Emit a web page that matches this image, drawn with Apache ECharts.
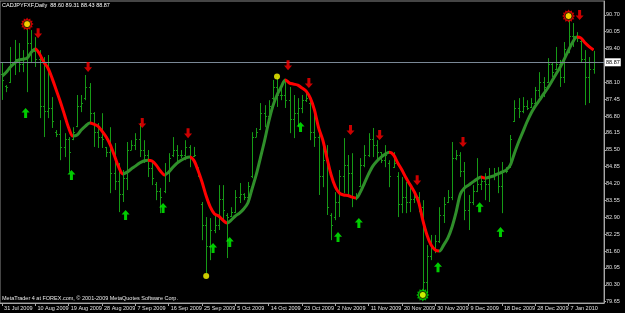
<!DOCTYPE html>
<html><head><meta charset="utf-8">
<script src="https://cdn.jsdelivr.net/npm/echarts@6/dist/echarts.min.js"></script>
<style>html,body{margin:0;padding:0;background:#000}#c{width:625px;height:313px}</style>
</head><body><div id="c"></div>
<script>
const titleText = 'CADJPYFXF,Daily  88.60 89.31 88.43 88.87';
const footerText = 'MetaTrader 4 at FOREX.com, \u00a9 2001-2009 MetaQuotes Software Corp.';
const xTickLabels = ['31 Jul 2009','10 Aug 2009','19 Aug 2009','28 Aug 2009','7 Sep 2009','16 Sep 2009','25 Sep 2009','5 Oct 2009','14 Oct 2009','23 Oct 2009','2 Nov 2009','11 Nov 2009','20 Nov 2009','30 Nov 2009','9 Dec 2009','18 Dec 2009','28 Dec 2009','7 Jan 2010'];
const yTickValues = [79.65,80.30,80.95,81.60,82.25,82.90,83.55,84.20,84.85,85.50,86.15,86.80,87.45,88.10,88.75,89.40,90.05,90.70];
const bidPrice = 88.87;

const open = [88.4,87.95,88.1,88.9,89.0,88.8,89.0,89.6,89.3,89.0,
87.2,87.0,87.1,86.2,86.1,85.6,85.9,85.9,86.4,87.2,
87.5,87.9,86.9,86.2,86.0,85.6,85.4,84.6,84.3,83.8,
84.4,85.5,85.7,85.9,85.5,85.3,84.8,84.2,83.9,83.9,
84.6,85.3,85.5,85.3,85.3,85.6,85.25,84.8,83.4,82.6,
81.8,82.4,82.6,83.6,83.0,82.95,83.1,83.7,83.8,83.7,
84.5,86.0,86.3,86.9,86.8,87.5,87.9,87.6,87.6,87.4,
86.7,86.9,87.1,87.4,87.3,86.2,86.0,84.5,85.1,83.0,
82.9,83.5,84.5,84.9,84.6,83.7,84.1,84.9,85.3,85.9,
85.7,85.4,85.1,85.0,84.85,84.5,83.4,83.7,83.5,83.6,
83.7,83.3,80.4,81.4,81.7,82.0,83.0,83.5,83.7,85.2,
85.3,84.7,83.2,83.5,83.9,84.2,84.3,84.2,84.5,84.6,
84.1,84.7,84.85,86.6,87.1,87.0,87.2,87.15,87.3,87.8,
88.1,88.1,88.8,88.6,88.8,88.3,89.4,89.9,89.9,89.7,
89.0,88.3,88.60];
const high = [88.88,87.99,89.46,89.73,89.61,89.34,90.27,90.11,89.84,89.34,
89.07,89.15,87.53,86.26,86.64,86.14,85.99,86.37,87.61,87.61,
88.38,88.07,86.95,86.53,86.91,85.61,86.37,85.76,84.99,84.72,
85.80,85.87,86.14,86.53,85.87,85.49,84.99,84.26,84.03,84.99,
85.37,85.99,85.68,85.49,85.87,85.68,85.61,84.83,83.49,82.91,
82.87,83.06,84.14,84.14,83.06,83.29,83.95,84.22,83.83,84.26,
86.18,86.34,87.30,87.22,87.41,88.19,88.28,87.88,88.19,87.92,
87.61,87.49,87.61,87.68,87.41,86.91,86.37,85.76,85.68,83.06,
83.87,84.72,85.95,85.30,85.37,83.83,85.18,85.68,86.14,86.34,
85.87,85.41,85.68,85.10,85.41,84.64,84.45,84.26,84.22,83.95,
83.87,83.56,81.83,82.22,82.22,83.29,83.68,83.95,85.80,85.49,
85.41,85.03,83.76,84.14,85.18,84.45,84.60,84.80,84.80,84.83,
85.03,84.83,86.07,87.41,87.49,87.53,87.41,87.49,87.92,88.49,
88.30,89.03,88.84,89.46,88.96,89.65,90.57,90.38,90.03,89.73,
89.34,89.07,89.31];
const low = [87.42,87.72,88.07,88.38,88.49,88.49,87.72,88.84,88.69,86.72,
85.99,86.72,86.34,85.99,85.10,85.22,84.64,85.87,86.37,86.95,
87.41,86.53,85.61,85.57,85.57,85.22,83.83,83.95,83.10,83.49,
83.95,85.49,85.49,85.22,84.99,84.45,84.14,83.56,83.06,83.83,
84.26,85.22,84.99,85.18,85.10,84.83,85.22,84.45,82.02,80.75,
81.25,82.29,82.41,82.79,81.33,82.91,83.06,83.45,83.56,83.45,
84.41,85.99,86.26,86.37,86.64,87.41,87.15,87.41,87.11,86.14,
85.95,86.37,86.91,87.34,85.87,85.61,83.76,84.06,82.99,82.02,
82.79,82.91,83.83,83.68,83.29,83.56,84.06,84.83,85.22,85.22,
85.10,84.99,84.83,84.06,84.80,82.91,83.06,83.06,83.10,83.45,
83.10,79.98,79.98,81.25,81.52,81.91,82.68,83.45,83.56,85.10,
84.45,82.79,82.41,83.37,83.87,83.95,83.56,83.49,84.33,83.83,
83.06,84.60,84.80,86.57,86.72,86.91,87.03,87.11,87.15,87.53,
87.53,88.07,88.30,88.57,87.92,88.07,89.22,89.46,89.65,88.88,
87.22,87.30,88.43];
const close = [88.2,87.9,88.9,89.0,88.8,89.0,89.6,89.3,89.0,87.2,
87.0,87.1,86.6,86.1,85.6,85.9,85.4,86.2,87.2,87.3,
87.9,86.9,86.2,86.0,85.9,85.4,84.6,84.3,83.8,84.4,
85.5,85.7,85.9,85.5,85.3,84.8,84.4,83.9,83.7,84.6,
85.2,85.5,85.3,85.3,85.6,85.2,85.3,84.6,82.6,81.8,
82.4,82.6,83.6,83.2,82.9,83.1,83.7,83.8,83.7,84.1,
86.0,86.2,86.9,86.8,87.2,87.9,87.6,87.6,87.4,86.7,
86.9,87.1,87.4,87.5,86.2,86.0,84.5,85.1,83.3,82.6,
83.5,84.5,84.9,84.6,83.7,83.7,84.9,85.3,85.9,85.7,
85.4,85.1,85.3,84.5,85.0,83.4,83.7,83.5,83.6,83.7,
83.3,80.4,81.4,81.7,82.0,83.0,83.4,83.7,85.2,85.3,
84.7,83.2,83.5,83.9,84.2,84.3,84.2,84.5,84.6,84.1,
84.7,84.7,85.9,87.1,87.0,87.2,87.1,87.3,87.8,88.1,
87.9,88.8,88.5,88.8,88.3,89.4,89.9,89.9,89.8,89.0,
88.3,88.6,88.87];
const trend = [88.34,88.49,88.69,88.84,88.96,88.99,89.03,89.26,89.38,89.19,
88.88,88.65,88.26,87.80,87.34,86.84,86.34,86.03,86.07,86.26,
86.41,86.53,86.49,86.41,86.22,85.99,85.68,85.26,84.83,84.57,
84.64,84.76,84.87,84.99,85.07,85.10,85.07,84.91,84.68,84.53,
84.64,84.83,84.99,85.10,85.18,85.22,85.10,84.72,84.26,83.72,
83.29,83.03,82.95,82.79,82.68,82.79,82.95,83.06,83.22,83.45,
83.99,84.53,85.18,85.84,86.57,87.18,87.61,87.92,88.19,88.07,
88.03,87.99,87.88,87.76,87.49,87.03,86.34,85.87,85.18,84.53,
84.07,83.83,83.76,83.74,83.68,83.64,83.87,84.22,84.57,84.87,
85.07,85.22,85.34,85.41,85.30,84.99,84.72,84.41,84.14,83.87,
83.49,82.79,82.22,81.83,81.64,81.60,81.83,82.10,82.52,83.10,
83.79,84.03,84.14,84.26,84.37,84.45,84.41,84.45,84.49,84.57,
84.64,84.72,84.91,85.37,85.80,86.18,86.57,86.91,87.18,87.41,
87.65,87.88,88.15,88.42,88.69,89.00,89.34,89.65,89.84,89.80,
89.61,89.46,89.34];
const redArrows = [[8,89.99],[20,88.69],[33,86.53],[44,86.14],[68,88.76],[73,88.07],[83,86.26],[90,86.07],[99,84.33],[110,85.80],[138,90.69]];
const greenArrows = [[5,86.92],[16,84.53],[29,82.99],[38,83.26],[50,81.72],[54,81.95],[71,86.38],[80,82.14],[85,82.68],[104,80.98],[114,83.29],[119,82.33]];
const yellowDots = [[49,80.64],[66,88.32]];
const redSuns = [[6,90.34],[136,90.65]];
const greenSuns = [[101,79.91]];

// trading-day categories (Sun-Fri sessions), with empty right margin
const MONTHS = ['Jan','Feb','Mar','Apr','May','Jun','Jul','Aug','Sep','Oct','Nov','Dec'];
const categories = [];
let d = new Date(Date.UTC(2009,6,31));
while (categories.length < 145) {
  const wd = d.getUTCDay();
  const ny = d.getUTCMonth() === 0 && d.getUTCDate() === 1;
  if (wd !== 6 && !ny) categories.push(d.getUTCDate() + ' ' + MONTHS[d.getUTCMonth()] + ' ' + d.getUTCFullYear());
  d = new Date(d.getTime() + 86400000);
}

const BAR = '#169a16';
const RED = '#ff0000';
const LINEGREEN = '#2f8f2a';
const AXIS = '#a8a8a8';
const TXT = '#e0e0e0';
const FONT = '"Liberation Sans", Arial, sans-serif';

const ohlc = high.map((h, i) => [i, open[i], h, low[i], close[i]]);

// colour pieces for the trend line: red while falling, green while rising
const pieces = [];
let s = 0;
let falling = trend[1] < trend[0];
for (let i = 1; i < trend.length; i++) {
  const f = trend[i] < trend[i - 1];
  if (f !== falling) {
    pieces.push({ gte: s, lte: i - 1, color: falling ? RED : LINEGREEN });
    s = i - 1; falling = f;
  }
}
pieces.push({ gte: s, lte: trend.length - 1, color: falling ? RED : LINEGREEN });
for (let k = 1; k < pieces.length; k++) { delete pieces[k].gte; pieces[k].gt = pieces[k - 1].lte; }

function starPath(n, r1, r2) {
  let p = '';
  for (let k = 0; k < 2 * n; k++) {
    const r = k % 2 ? r2 : r1;
    const a = Math.PI * k / n;
    p += (k ? 'L' : 'M') + (r * Math.sin(a)).toFixed(3) + ',' + (-r * Math.cos(a)).toFixed(3);
  }
  return 'path://' + p + 'Z';
}
const STAR = starPath(12, 10, 7.5);
const UP = 'path://M4,0L8,4.6L5.5,4.6L5.5,10L2.5,10L2.5,4.6L0,4.6Z';
const DOWN = 'path://M4,10L8,5.4L5.5,5.4L5.5,0L2.5,0L2.5,5.4L0,5.4Z';

const isLabelIdx = (idx) => idx % 8 === 0 && idx / 8 < xTickLabels.length;
const yLabelVals = yTickValues.filter(v => Math.abs(v - bidPrice) > 0.3);

const chart = echarts.init(document.getElementById('c'), null, { renderer: 'canvas' });
chart.setOption({
  backgroundColor: '#000',
  animation: false,
  textStyle: { fontFamily: FONT },
  title: [
    { text: titleText, left: 2, top: 2, padding: 0, textStyle: { fontSize: 5.5, color: '#ffffff', fontWeight: 'normal', fontFamily: FONT } },
    { text: footerText, left: 2, top: 295, padding: 0, textStyle: { fontSize: 5.5, color: '#e8e8e8', fontWeight: 'normal', fontFamily: FONT } }
  ],
  grid: { left: 0, right: 21, top: 1, bottom: 10, show: true, borderColor: '#8a8a8a', borderWidth: 1, backgroundColor: '#000' },
  xAxis: {
    type: 'category', data: categories, boundaryGap: true,
    axisLine: { show: true, lineStyle: { color: AXIS } },
    axisTick: { show: true, interval: (idx) => isLabelIdx(idx), alignWithLabel: true, length: 3, inside: false, lineStyle: { color: AXIS } },
    axisLabel: { interval: (idx) => isLabelIdx(idx), formatter: (v) => { const k = categories.indexOf(v); return isLabelIdx(k) ? xTickLabels[k / 8] : ''; },
      align: 'left', fontSize: 5.5, color: TXT, margin: 2, padding: [0, 0, 0, 2], fontFamily: FONT },
    splitLine: { show: false }
  },
  yAxis: {
    type: 'value', position: 'right', min: 79.60, max: 91.23, scale: true,
    splitLine: { show: false },
    axisLine: { show: true, lineStyle: { color: AXIS } },
    axisTick: { show: true, length: 2, customValues: yTickValues, lineStyle: { color: AXIS } },
    axisLabel: { customValues: yLabelVals, formatter: (v) => v.toFixed(2), fontSize: 5.5, color: TXT, margin: 2, fontFamily: FONT }
  },
  visualMap: { show: false, type: 'piecewise', dimension: 0, seriesIndex: 1, pieces: pieces },
  series: [
    {
      type: 'custom', name: 'bars', z: 2,
      data: ohlc,
      encode: { x: 0, y: [1, 2, 3, 4] },
      renderItem: (params, api) => {
        const i = api.value(0);
        const o = api.coord([i, api.value(1)]);
        const h = api.coord([i, api.value(2)]);
        const l = api.coord([i, api.value(3)]);
        const c = api.coord([i, api.value(4)]);
        const x = Math.round(h[0]) + 0.5;
        const st = { stroke: BAR, lineWidth: 1 };
        const oy = Math.round(o[1]) + 0.5, cy = Math.round(c[1]) + 0.5;
        return { type: 'group', children: [
          { type: 'line', shape: { x1: x, y1: h[1], x2: x, y2: l[1] }, style: st },
          { type: 'line', shape: { x1: x - 1.5, y1: oy, x2: x, y2: oy }, style: st },
          { type: 'line', shape: { x1: x, y1: cy, x2: x + 1.5, y2: cy }, style: st }
        ] };
      },
      markLine: {
        silent: true, symbol: 'none', animation: false,
        data: [{ yAxis: bidPrice }],
        lineStyle: { color: '#7a8896', width: 1, type: 'solid' },
        label: { show: true, position: 'end', formatter: bidPrice.toFixed(2), backgroundColor: '#ffffff', color: '#000', fontSize: 5.5, padding: [1, 1, 1, 1], distance: 1, fontFamily: FONT }
      }
    },
    {
      type: 'line', name: 'trend', data: trend, z: 3,
      smooth: 0.3, showSymbol: false, symbol: 'none',
      lineStyle: { width: 3 }
    },
    { type: 'scatter', name: 'down', data: redArrows, symbol: DOWN, symbolSize: [8, 10], symbolOffset: [2.7, 0], itemStyle: { color: RED }, z: 5 },
    { type: 'scatter', name: 'up', data: greenArrows, symbol: UP, symbolSize: [8, 10], symbolOffset: [2.7, 0], itemStyle: { color: '#00ff00' }, z: 5 },
    { type: 'scatter', name: 'redSunRing', data: redSuns, symbol: STAR, symbolSize: 13, itemStyle: { color: RED }, z: 5 },
    { type: 'scatter', name: 'greenSunRing', data: greenSuns, symbol: STAR, symbolSize: 13, itemStyle: { color: '#00e000' }, z: 5 },
    { type: 'scatter', name: 'sunCore', data: redSuns.concat(greenSuns), symbol: 'circle', symbolSize: 7, itemStyle: { color: '#ffff00', borderColor: '#000', borderWidth: 1 }, z: 6 },
    { type: 'scatter', name: 'dots', data: yellowDots, symbol: 'circle', symbolSize: 6, itemStyle: { color: '#ffff00' }, z: 6 }
  ]
});
</script>
</body></html>
